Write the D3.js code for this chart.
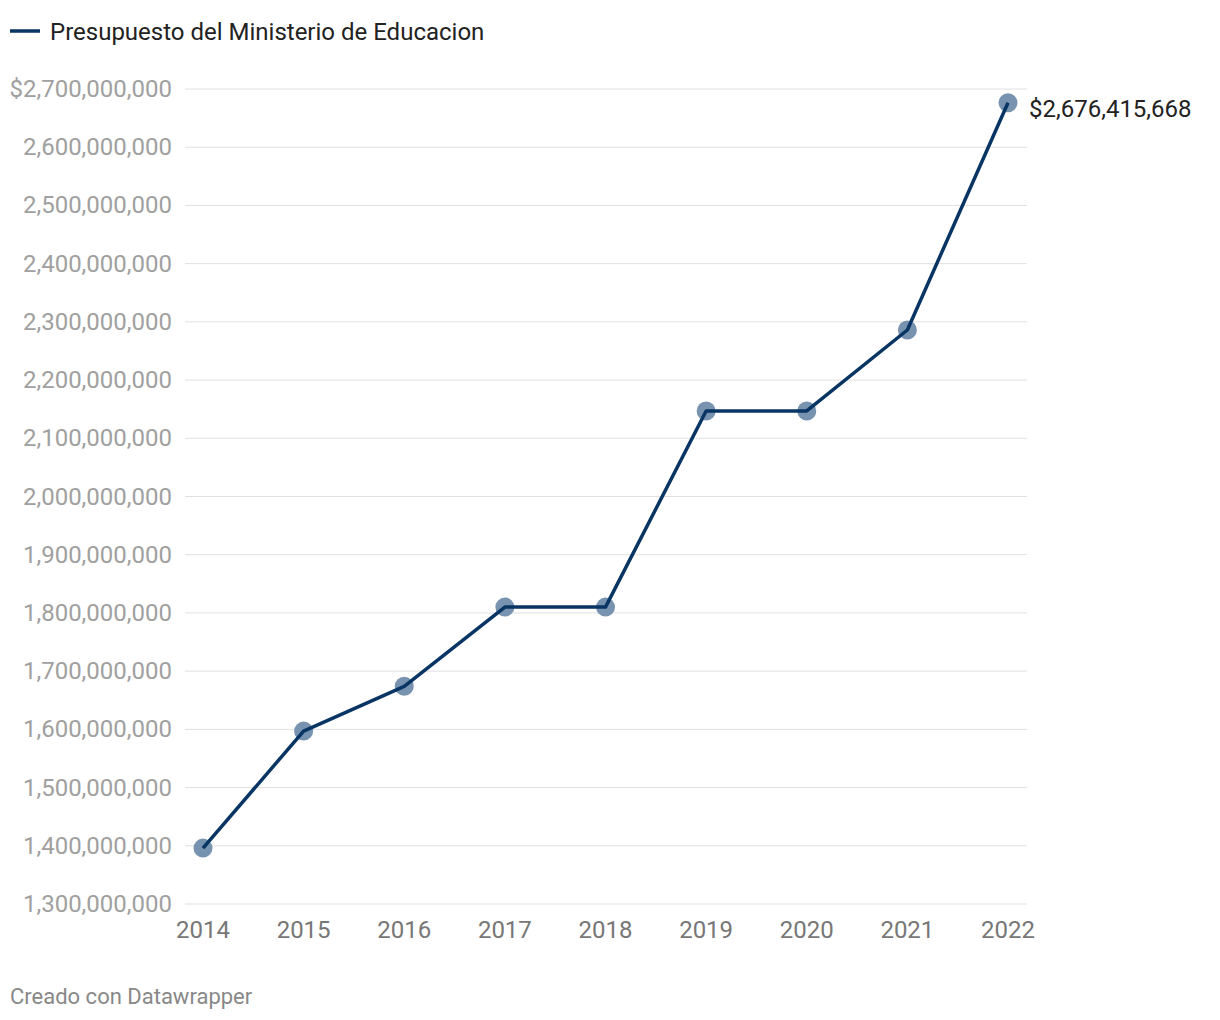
<!DOCTYPE html>
<html>
<head>
<meta charset="utf-8">
<script src="https://cdn.jsdelivr.net/npm/d3@7"></script>
<style>
  body { margin: 0; background: #fff; font-family: Roboto, "Noto Sans", sans-serif; }
</style>
</head>
<body>
<div id="chart"></div>
<script>
// data
var years = ['2014', '2015', '2016', '2017', '2018', '2019', '2020', '2021', '2022'];
var budget = [1396000000, 1597000000, 1674000000, 1810000000, 1810000000, 2147000000, 2147000000, 2286000000, 2676415668];
var yTicks = [1300000000, 1400000000, 1500000000, 1600000000, 1700000000, 1800000000, 1900000000,
  2000000000, 2100000000, 2200000000, 2300000000, 2400000000, 2500000000, 2600000000, 2700000000];
var seriesName = 'Presupuesto del Ministerio de Educacion';
var credit = 'Creado con Datawrapper';

var width = 1220, height = 1020;
var lineColor = '#083563';

var svg = d3.select('#chart').append('svg')
  .attr('width', width)
  .attr('height', height);

var x = d3.scalePoint()
  .domain(years)
  .range([203, 1008]);

var y = d3.scaleLinear()
  .domain([1300000000, 2700000000])
  .range([904, 89]);

var fmt = d3.format(',');

// legend
svg.append('line')
  .attr('x1', 10).attr('x2', 40)
  .attr('y1', 31).attr('y2', 31)
  .attr('stroke', lineColor)
  .attr('stroke-width', 3.5);
svg.append('text')
  .attr('x', 50).attr('y', 40)
  .attr('font-size', 24)
  .attr('fill', '#222')
  .text(seriesName);

// grid + y labels
var grid = svg.append('g');
grid.selectAll('line')
  .data(yTicks)
  .enter().append('line')
    .attr('x1', 185).attr('x2', 1027)
    .attr('y1', function(d) { return y(d); })
    .attr('y2', function(d) { return y(d); })
    .attr('stroke', '#e0e0e0')
    .attr('stroke-width', 1);
grid.selectAll('text')
  .data(yTicks)
  .enter().append('text')
    .attr('x', 172)
    .attr('y', function(d) { return y(d) + 8; })
    .attr('text-anchor', 'end')
    .attr('font-size', 24)
    .attr('fill', '#a0a0a0')
    .text(function(d, i) { return (i == yTicks.length - 1 ? '$' : '') + fmt(d); });

// x labels
svg.append('g').selectAll('text')
  .data(years)
  .enter().append('text')
    .attr('x', function(d) { return x(d); })
    .attr('y', 938)
    .attr('text-anchor', 'middle')
    .attr('font-size', 24)
    .attr('fill', '#777')
    .text(function(d) { return d; });

// dots
svg.append('g').selectAll('circle')
  .data(budget)
  .enter().append('circle')
    .attr('cx', function(d, i) { return x(years[i]); })
    .attr('cy', function(d) { return y(d); })
    .attr('r', 9.5)
    .attr('fill', '#7893b0');

// line
var line = d3.line()
  .x(function(d, i) { return x(years[i]); })
  .y(function(d) { return y(d); });

svg.append('path')
  .datum(budget)
  .attr('d', line)
  .attr('fill', 'none')
  .attr('stroke', lineColor)
  .attr('stroke-width', 3.5)
  .attr('stroke-linejoin', 'round');

// end label
var last = budget.length - 1;
svg.append('text')
  .attr('x', x(years[last]) + 21)
  .attr('y', y(budget[last]) + 14)
  .attr('font-size', 24)
  .attr('fill', '#222')
  .text('$' + fmt(budget[last]));

// credit
svg.append('text')
  .attr('x', 10).attr('y', 1004)
  .attr('font-size', 22)
  .attr('fill', '#888')
  .text(credit);
</script>
</body>
</html>
